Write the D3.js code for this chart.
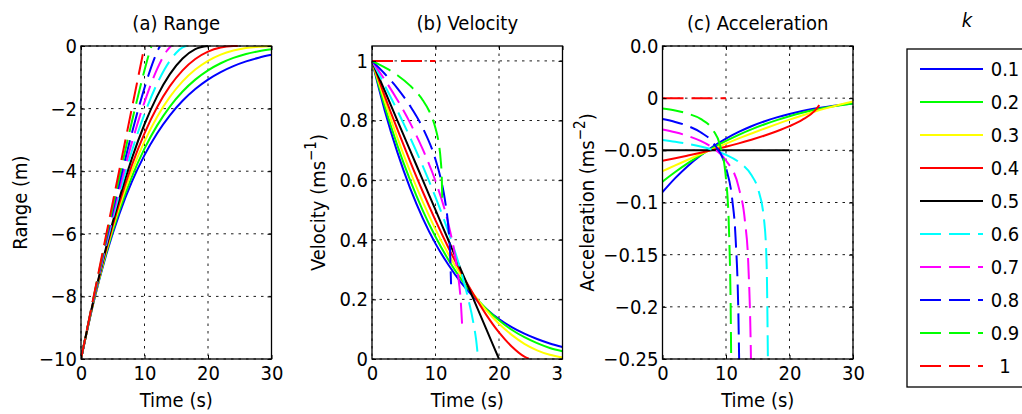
<!DOCTYPE html>
<html>
<head>
<meta charset="utf-8">
<script src="https://cdn.jsdelivr.net/npm/d3@7"></script>
<style>
  body { margin: 0; background: #fff; }
  svg text {
    font-family: "DejaVu Sans Condensed", "DejaVu Sans", sans-serif;
    font-stretch: condensed;
    font-size: 20px;
    fill: #000;
  }
</style>
</head>
<body>
<div id="chart"></div>
<script>
// k values, one curve per k in every panel
const kValues = [0.1, 0.2, 0.3, 0.4, 0.5, 0.6, 0.7, 0.8, 0.9, 1];
const kLabels = ['0.1', '0.2', '0.3', '0.4', '0.5', '0.6', '0.7', '0.8', '0.9', '1'];
const colors = ['#0000ff', '#00ff00', '#ffff00', '#ff0000', '#000000',
                '#00ffff', '#ff00ff', '#0000ff', '#00ff00', '#ff0000'];
const dashed = [false, false, false, false, false, true, true, true, true, true];

// sample times (s) for each k
const times = [
  [0, 2, 4, 6, 8, 10, 12, 14, 16, 18, 20, 22, 24, 26, 28, 30],
  [0, 2, 4, 6, 8, 10, 12, 14, 16, 18, 20, 22, 24, 26, 28, 30],
  [0, 2, 4, 6, 8, 10, 12, 14, 16, 18, 20, 22, 24, 26, 28, 30],
  [0, 2, 4, 6, 8, 10, 12, 14, 16, 18, 20, 22, 24, 24.7],
  [0, 2, 4, 6, 8, 10, 12, 14, 16, 18, 20],
  [0, 2, 4, 6, 8, 10, 12, 14, 15, 16, 16.4, 16.6],
  [0, 2, 4, 6, 8, 10, 12, 13, 13.5, 14, 14.2],
  [0, 2, 4, 6, 8, 10, 11, 11.5, 12, 12.3, 12.45],
  [0, 2, 4, 6, 8, 9, 10, 10.5, 10.8, 11, 11.08],
  [0, 2, 4, 6, 8, 10]
];

// range (m)
const range = [
  [-10, -8.171, -6.648, -5.386, -4.344, -3.487, -2.785, -2.213, -1.749, -1.374, -1.074, -0.834, -0.643, -0.492, -0.374, -0.282],
  [-10, -8.154, -6.591, -5.277, -4.182, -3.277, -2.536, -1.935, -1.454, -1.074, -0.778, -0.551, -0.380, -0.255, -0.165, -0.102],
  [-10, -8.136, -6.530, -5.161, -4.006, -3.046, -2.259, -1.627, -1.131, -0.751, -0.472, -0.274, -0.144, -0.064, -0.022, -0.005],
  [-10, -8.118, -6.467, -5.035, -3.813, -2.789, -1.950, -1.284, -0.778, -0.415, -0.179, -0.050, -0.003, 0],
  [-10, -8.1, -6.4, -4.9, -3.6, -2.5, -1.6, -0.9, -0.4, -0.1, 0],
  [-10, -8.081, -6.330, -4.753, -3.363, -2.172, -1.198, -0.472, -0.215, -0.047, -0.010, -0.001],
  [-10, -8.062, -6.255, -4.592, -3.095, -1.791, -0.730, -0.321, -0.159, -0.037, -0.007],
  [-10, -8.042, -6.175, -4.416, -2.789, -1.337, -0.706, -0.425, -0.179, -0.057, -0.010],
  [-10, -8.021, -6.090, -4.220, -2.431, -1.580, -0.774, -0.398, -0.188, -0.060, -0.015],
  [-10, -8, -6, -4, -2, 0]
];

// velocity (m/s)
const velocity = [
  [1, 0.834, 0.693, 0.573, 0.472, 0.387, 0.317, 0.257, 0.208, 0.168, 0.134, 0.107, 0.085, 0.067, 0.052, 0.040],
  [1, 0.849, 0.716, 0.600, 0.498, 0.410, 0.334, 0.269, 0.214, 0.168, 0.130, 0.098, 0.073, 0.053, 0.037, 0.026],
  [1, 0.866, 0.742, 0.629, 0.527, 0.435, 0.353, 0.281, 0.217, 0.163, 0.118, 0.081, 0.051, 0.029, 0.014, 0.005],
  [1, 0.882, 0.770, 0.663, 0.561, 0.465, 0.375, 0.292, 0.216, 0.148, 0.089, 0.042, 0.008, 0.001],
  [1, 0.9, 0.8, 0.7, 0.6, 0.5, 0.4, 0.3, 0.2, 0.1, 0],
  [1, 0.918, 0.833, 0.743, 0.647, 0.543, 0.428, 0.295, 0.215, 0.117, 0.064, 0.025],
  [1, 0.937, 0.869, 0.792, 0.703, 0.597, 0.456, 0.356, 0.289, 0.187, 0.112],
  [1, 0.957, 0.908, 0.849, 0.775, 0.669, 0.589, 0.532, 0.447, 0.356, 0.251],
  [1, 0.978, 0.952, 0.917, 0.868, 0.832, 0.774, 0.725, 0.672, 0.600, 0.520],
  [1, 1, 1, 1, 1, 1]
];

// acceleration (m/s^2)
const acceleration = [
  [-0.09, -0.0766, -0.0649, -0.0549, -0.0462, -0.0388, -0.0324, -0.0269, -0.0223, -0.0184, -0.0151, -0.0123, -0.0100, -0.0081, -0.0065, -0.0052],
  [-0.08, -0.0708, -0.0623, -0.0545, -0.0474, -0.0410, -0.0351, -0.0299, -0.0252, -0.0210, -0.0173, -0.0140, -0.0112, -0.0088, -0.0068, -0.0051],
  [-0.07, -0.0645, -0.0590, -0.0537, -0.0486, -0.0435, -0.0386, -0.0339, -0.0293, -0.0249, -0.0206, -0.0166, -0.0128, -0.0093, -0.0061, -0.0032],
  [-0.06, -0.0576, -0.0550, -0.0523, -0.0495, -0.0465, -0.0433, -0.0398, -0.0360, -0.0317, -0.0268, -0.0208, -0.0120, -0.0066],
  [-0.05, -0.05, -0.05, -0.05, -0.05, -0.05, -0.05, -0.05, -0.05, -0.05, -0.05],
  [-0.04, -0.0417, -0.0438, -0.0464, -0.0497, -0.0543, -0.0611, -0.0737, -0.0862, -0.117, -0.159, -0.252],
  [-0.03, -0.0327, -0.0362, -0.0410, -0.0480, -0.0597, -0.0855, -0.1188, -0.1574, -0.2805, -0.558],
  [-0.02, -0.0228, -0.0267, -0.0327, -0.0430, -0.0669, -0.0981, -0.133, -0.2236, -0.445, -1.26],
  [-0.01, -0.0119, -0.0149, -0.0199, -0.0310, -0.0438, -0.0774, -0.1317, -0.240, -0.60, -1.86],
  [0, 0, 0, 0, 0, 0]
];

// ticks
const timeTicks = [0, 10, 20, 30];
const timeTickLabels = ['0', '10', '20', '30'];
const rangeTicks = [-10, -8, -6, -4, -2, 0];
const rangeTickLabels = ['\u221210', '\u22128', '\u22126', '\u22124', '\u22122', '0'];
const velocityTicks = [0, 0.2, 0.4, 0.6, 0.8, 1];
const velocityTickLabels = ['0', '0.2', '0.4', '0.6', '0.8', '1'];
const accelTicks = [-0.25, -0.2, -0.15, -0.1, -0.05, 0, 0.05];
const accelTickLabels = ['\u22120.25', '\u22120.2', '\u22120.15', '\u22120.1', '\u22120.05', '0', '0.0'];

const width = 1022, height = 414;
const plotTop = 46, plotBottom = 359;

const panels = [
  { title: '(a) Range', values: range, domain: [-10, 0], ticks: rangeTicks, tickLabels: rangeTickLabels,
    left: 81, right: 271.5, yLabel: ['Range (m)', '', ''], yLabelX: 26.5 },
  { title: '(b) Velocity', values: velocity, domain: [0, 1.05], ticks: velocityTicks, tickLabels: velocityTickLabels,
    left: 372, right: 562.5, yLabel: ['Velocity (ms', '\u22121', ')'], yLabelX: 325, labelClip: 563.5 },
  { title: '(c) Acceleration', values: acceleration, domain: [-0.25, 0.05], ticks: accelTicks, tickLabels: accelTickLabels,
    left: 662.5, right: 853, yLabel: ['Acceleration (ms', '\u22122', ')'], yLabelX: 594 }
];

const svg = d3.select('#chart')
  .append('svg')
  .attr('width', width)
  .attr('height', height);

const defs = svg.append('defs');

panels.forEach((p, pi) => {
  const x = d3.scaleLinear().domain([0, 30]).range([p.left, p.right]);
  const y = d3.scaleLinear().domain(p.domain).range([plotBottom, plotTop]);
  const g = svg.append('g');

  // dotted grid
  g.append('g')
    .selectAll('line')
    .data(timeTicks)
    .join('line')
      .attr('x1', d => x(d)).attr('x2', d => x(d))
      .attr('y1', plotTop).attr('y2', plotBottom)
      .attr('stroke', '#000').attr('stroke-width', 0.9)
      .attr('stroke-dasharray', '2.5,5');
  g.append('g')
    .selectAll('line')
    .data(p.ticks)
    .join('line')
      .attr('x1', p.left).attr('x2', p.right)
      .attr('y1', d => y(d)).attr('y2', d => y(d))
      .attr('stroke', '#000').attr('stroke-width', 0.9)
      .attr('stroke-dasharray', '2.5,5');

  defs.append('clipPath')
    .attr('id', 'clip' + pi)
    .append('rect')
      .attr('x', p.left).attr('y', plotTop - 1)
      .attr('width', p.right - p.left).attr('height', plotBottom - plotTop + 1);

  const line = d3.line()
    .x(d => x(d[0]))
    .y(d => y(d[1]))
    .curve(d3.curveMonotoneX);

  g.append('g')
    .attr('clip-path', `url(#clip${pi})`)
    .selectAll('path')
    .data(kValues.map((k, i) => times[i].map((t, j) => [t, p.values[i][j]])))
    .join('path')
      .attr('d', line)
      .attr('fill', 'none')
      .attr('stroke', (d, i) => colors[i])
      .attr('stroke-width', 2)
      .attr('stroke-dasharray', (d, i) => dashed[i] ? '21,8' : null);

  // axes, ticks pointing inward like the original
  const xb = g.append('g')
    .attr('transform', `translate(0,${plotBottom})`)
    .call(d3.axisBottom(x).tickValues(timeTicks).tickFormat((d, i) => timeTickLabels[i])
      .tickSizeInner(-4).tickSizeOuter(0).tickPadding(7));
  g.append('g')
    .attr('transform', `translate(0,${plotTop})`)
    .call(d3.axisTop(x).tickValues(timeTicks).tickFormat('').tickSizeInner(-4).tickSizeOuter(0));
  g.append('g')
    .attr('transform', `translate(${p.left},0)`)
    .call(d3.axisLeft(y).tickValues(p.ticks).tickFormat((d, i) => p.tickLabels[i])
      .tickSizeInner(-4).tickSizeOuter(0).tickPadding(4));
  g.append('g')
    .attr('transform', `translate(${p.right},0)`)
    .call(d3.axisRight(y).tickValues(p.ticks).tickFormat('').tickSizeInner(-4).tickSizeOuter(0));
  g.selectAll('.domain').remove();
  g.selectAll('.tick line').attr('stroke', '#000');
  g.selectAll('g').attr('font-size', null).attr('font-family', null);

  if (p.labelClip) {
    defs.append('clipPath')
      .attr('id', 'lclip' + pi)
      .append('rect')
        .attr('x', 0).attr('y', 0).attr('width', p.labelClip).attr('height', height);
    xb.attr('clip-path', `url(#lclip${pi})`);
  }

  // box
  g.append('rect')
    .attr('x', p.left).attr('y', plotTop)
    .attr('width', p.right - p.left).attr('height', plotBottom - plotTop)
    .attr('fill', 'none').attr('stroke', '#000').attr('stroke-width', 1.3);

  // title and axis labels
  g.append('text')
    .attr('x', (p.left + p.right) / 2).attr('y', 29.5)
    .attr('text-anchor', 'middle')
    .text(p.title);

  g.append('text')
    .attr('x', (p.left + p.right) / 2).attr('y', 407)
    .attr('text-anchor', 'middle')
    .text('Time (s)');

  const yl = g.append('text')
    .attr('transform', `translate(${p.yLabelX},${(plotTop + plotBottom) / 2}) rotate(-90)`)
    .attr('text-anchor', 'middle');
  yl.append('tspan').text(p.yLabel[0]);
  if (p.yLabel[1]) {
    yl.append('tspan').attr('dy', -9).style('font-size', '15px').text(p.yLabel[1]);
    yl.append('tspan').attr('dy', 9).text(p.yLabel[2]);
  }
});

// legend
const legendY = d3.scalePoint().domain(kLabels).range([69, 366]);
const legend = svg.append('g');

legend.append('rect')
  .attr('x', 907).attr('y', 49)
  .attr('width', 140).attr('height', 338)
  .attr('fill', '#fff').attr('stroke', '#000').attr('stroke-width', 1.3);

legend.append('text')
  .attr('x', 967).attr('y', 27)
  .attr('text-anchor', 'middle')
  .style('font-style', 'italic')
  .text('k');

legend.selectAll('line')
  .data(kLabels)
  .join('line')
    .attr('x1', 920).attr('x2', 983)
    .attr('y1', d => legendY(d)).attr('y2', d => legendY(d))
    .attr('stroke', (d, i) => colors[i])
    .attr('stroke-width', 2)
    .attr('stroke-dasharray', (d, i) => dashed[i] ? '21,8' : null);

legend.selectAll('text.lab')
  .data(kLabels)
  .join('text')
    .attr('class', 'lab')
    .attr('x', 1005)
    .attr('y', d => legendY(d))
    .attr('dy', '0.36em')
    .attr('text-anchor', 'middle')
    .text(d => d);
</script>
</body>
</html>
